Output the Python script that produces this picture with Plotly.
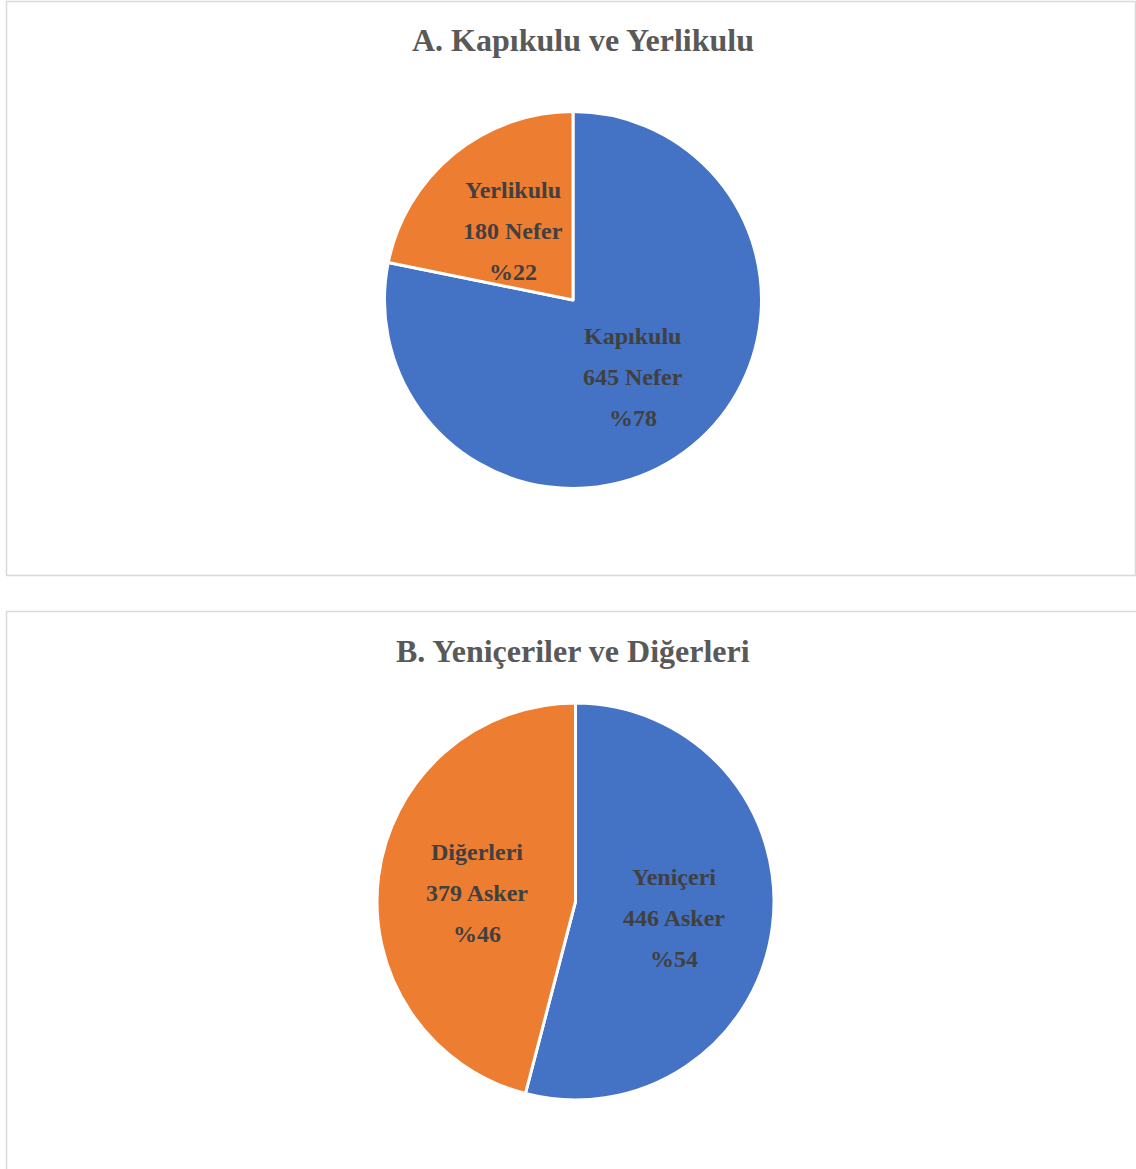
import math
import plotly.graph_objects as go

# ---- data ----
titles = ["A. Kapıkulu ve Yerlikulu", "B. Yeniçeriler ve Diğerleri"]
labels_a = ["Kapıkulu", "Yerlikulu"]
values_a = [645, 180]
unit_a = "Nefer"
labels_b = ["Yeniçeri", "Diğerleri"]
values_b = [446, 379]
unit_b = "Asker"
colors = ["#4472C4", "#ED7D31"]

W, H = 1136, 1169


def px(x):
    return x / W


def py(y):
    return 1 - y / H


panels = [
    dict(labels=labels_a, values=values_a, unit=unit_a, title=titles[0],
         cx=573, cy=300, r=188.5, title_x=583, title_y=40),
    dict(labels=labels_b, values=values_b, unit=unit_b, title=titles[1],
         cx=575.5, cy=901.5, r=198.5, title_x=573, title_y=651),
]

fig = go.Figure()
annotations = []
font_lbl = dict(family="Times New Roman, Liberation Serif", size=24, color="#404040")

for p in panels:
    cx, cy, r = p["cx"], p["cy"], p["r"]
    fig.add_trace(go.Pie(
        labels=p["labels"], values=p["values"], sort=False, direction="clockwise",
        rotation=0, textinfo="none", hoverinfo="label+value+percent",
        marker=dict(colors=colors, line=dict(color="white", width=3)),
        domain=dict(x=[px(cx - r), px(cx + r)], y=[py(cy + r), py(cy - r)]),
        showlegend=False,
    ))
    total = sum(p["values"])
    start = 0.0
    for lab, val in zip(p["labels"], p["values"]):
        frac = val / total
        mid = (start + frac / 2) * 2 * math.pi
        start += frac
        lx = cx + 0.5 * r * math.sin(mid)
        ly = cy - 0.5 * r * math.cos(mid) + 4
        lines = [lab, f"{val} {p['unit']}", f"%{round(frac * 100)}"]
        for i, t in enumerate(lines):
            annotations.append(dict(
                text=f"<b>{t}</b>", x=px(lx), y=py(ly + (i - 1) * 41),
                xref="paper", yref="paper", showarrow=False,
                xanchor="center", yanchor="middle", font=font_lbl,
            ))
    annotations.append(dict(
        text=f"<b>{p['title']}</b>", x=px(p["title_x"]), y=py(p["title_y"]),
        xref="paper", yref="paper", showarrow=False, xanchor="center",
        yanchor="middle",
        font=dict(family="Times New Roman, Liberation Serif", size=32, color="#595959"),
    ))

shapes = [
    dict(type="rect", xref="paper", yref="paper", x0=px(6.5), x1=px(1135.5),
         y0=py(575.5), y1=py(1.5), line=dict(color="#D9D9D9", width=1.5)),
    dict(type="rect", xref="paper", yref="paper", x0=px(6.5), x1=px(1150),
         y0=py(1190), y1=py(611.5), line=dict(color="#D9D9D9", width=1.5)),
]

fig.update_layout(
    width=W, height=H, margin=dict(l=0, r=0, t=0, b=0),
    paper_bgcolor="white", plot_bgcolor="white",
    annotations=annotations, shapes=shapes,
)

fig.write_html(
    "out.html",
    config={"displayModeBar": False},
    post_script="document.body.style.margin='0';document.body.style.overflow='hidden';",
)
